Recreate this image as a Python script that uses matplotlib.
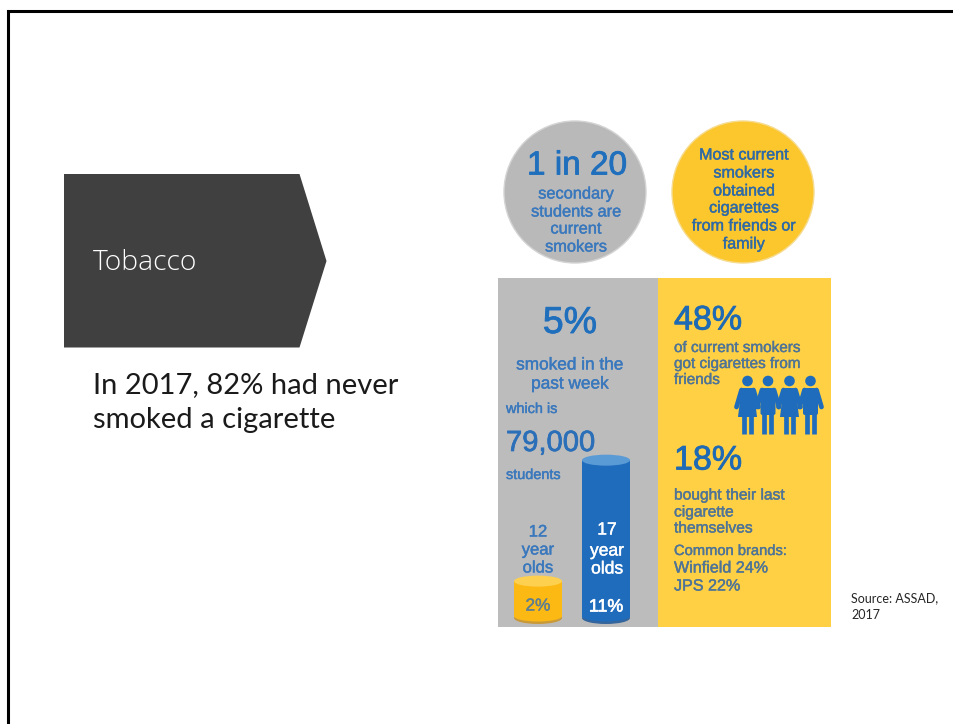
import matplotlib
matplotlib.use("Agg")
import matplotlib.pyplot as plt
import matplotlib.patheffects as pe
from matplotlib.patches import Circle, Ellipse, Polygon, Rectangle, FancyBboxPatch

# slide content
section_title = "Tobacco"
intro_lines = ["In 2017, 82% had never", "smoked a cigarette"]
source_lines = ["Source: ASSAD,", "2017"]

circle_grey_head = "1 in 20"
circle_grey_lines = ["secondary", "students are", "current", "smokers"]
circle_gold_lines = ["Most current", "smokers", "obtained", "cigarettes", "from friends or", "family"]

age_labels = [["12", "year", "olds"], ["17", "year", "olds"]]
age_values = [2, 11]

W, H = 954, 724
GREY = "#bcbcbc"
GOLD = "#ffd044"
AMBER = "#fdb913"
BLUE = "#1f6cbc"
TEXT_BLUE = "#3a78bd"
TEXT_SLATE = "#4f7496"
SANS = "Liberation Sans"

fig = plt.figure(figsize=(W / 100, H / 100), dpi=100)
ax = fig.add_axes([0, 0, 1, 1])
ax.set_xlim(0, W)
ax.set_ylim(H, 0)
ax.axis("off")


def label(x, y, s, size, color, ha="center", stroke=0.3):
    # regular weight with a thin outline, heavier than regular but lighter than bold
    t = ax.text(x, y, s, fontsize=size, color=color, ha=ha, va="center", family=SANS, zorder=6)
    t.set_path_effects([pe.withStroke(linewidth=stroke, foreground=color)])


def stack(x, ys, lines, size, color, ha="center"):
    for y, s in zip(ys, lines):
        label(x, y, s, size, color, ha=ha)


def cylinder(cx, base, value, half_w, fill, cap, shade):
    # body height follows the percentage
    height = 9 + 13.44 * value
    top = base - height
    ax.add_patch(Ellipse((cx, base + 1), half_w * 2, 12, fc=shade, ec="none", zorder=3))
    ax.add_patch(Rectangle((cx - half_w, top), half_w * 2, height, fc=fill, ec="none", zorder=3))
    ax.add_patch(Ellipse((cx, base - 1), half_w * 2, 11, fc=fill, ec="none", zorder=3))
    ax.add_patch(Ellipse((cx, top), half_w * 2, 11, fc=cap, ec="none", zorder=4))


# slide frame: open along the bottom and right
ax.plot([8.5, 8.5, W], [H, 10.5, 10.5], color="black", lw=2.2, solid_joinstyle="miter")

# section arrow
ax.add_patch(Polygon([(64, 174), (299.5, 174), (326.5, 261), (299.5, 347.5), (64, 347.5)],
                     closed=True, fc="#404040", ec="none"))
ax.text(93, 263, section_title, fontsize=20.3, color="white", family="Open Sans", fontweight="light",
        ha="left", va="center")

for y, s in zip([385, 420], intro_lines):
    ax.text(93, y, s, fontsize=21, color="#1a1a1a", family="Lato", ha="left", va="center")

for y, s in zip([598, 615], source_lines):
    ax.text(851, y, s, fontsize=9, color="#262626", family="Lato", ha="left", va="center")

# top circles
ax.add_patch(Circle((575, 192), 71, fc="#b9b9b9", ec="#d4d4d4", lw=1))
ax.add_patch(Circle((743, 192), 71, fc="#fcc62d", ec="#f6dc90", lw=1))
label(577, 166, circle_grey_head, 24, "#1f6fbd", stroke=0.6)
stack(576, [194, 212, 229, 247], circle_grey_lines, 11.8, TEXT_BLUE)
stack(744, [155, 173, 191, 208, 226, 244], circle_gold_lines, 11.6, "#2f6aa5")

# lower panels
ax.add_patch(Rectangle((498, 278), 160, 349, fc=GREY, ec="none"))
ax.add_patch(Rectangle((658, 278), 173, 349, fc=GOLD, ec="none"))

# grey panel text
label(570, 323, "5%", 27, "#1f6fbd", stroke=0.6)
stack(570, [365, 384], ["smoked in the", "past week"], 12.4, TEXT_BLUE)
label(506, 409, "which is", 10.4, TEXT_BLUE, ha="left")
label(506, 443, "79,000", 21, "#2a6fb8", ha="left", stroke=0.5)
label(506, 475, "students", 10.4, TEXT_BLUE, ha="left")

# cylinders by age group
cylinder(538, 617, age_values[0], 24, AMBER, "#fed050", "#c99a3a")
cylinder(606, 617, age_values[1], 24, BLUE, "#5b9bd5", "#34659c")
stack(538, [532, 550, 568], age_labels[0], 12, TEXT_BLUE)
stack(607, [530, 551, 569], age_labels[1], 12.6, "white")
label(538, 606, f"{age_values[0]}%", 12.4, "#5f7f8f")
label(606, 607, f"{age_values[1]}%", 12.8, "white", stroke=0.5)

# gold panel text
label(674, 321, "48%", 24.5, "#1f6ab4", ha="left", stroke=0.6)
stack(674, [348, 364, 380], ["of current smokers", "got cigarettes from", "friends"], 11, TEXT_SLATE, ha="left")

# group of four figures, woman / man alternating
for cx, skirt in zip([747.5, 768, 789.5, 810.5], [True, False, True, False]):
    ax.add_patch(Circle((cx, 381), 5.3, fc=BLUE, ec="none", zorder=3))
    if skirt:
        ax.add_patch(Polygon([(cx - 6, 388), (cx + 6, 388), (cx + 9.5, 417), (cx - 9.5, 417)],
                             fc=BLUE, ec="none", zorder=3))
    else:
        ax.add_patch(FancyBboxPatch((cx - 7.5, 388), 15, 27, boxstyle="round,pad=0,rounding_size=2",
                                    fc=BLUE, ec="none", zorder=3))
    ax.plot([cx - 3.5, cx - 3.5], [412, 434], color=BLUE, lw=3.4, solid_capstyle="butt", zorder=3)
    ax.plot([cx + 3.5, cx + 3.5], [412, 434], color=BLUE, lw=3.4, solid_capstyle="butt", zorder=3)
    ax.plot([cx - 6, cx - 11], [390, 407], color=BLUE, lw=3.4, solid_capstyle="round", zorder=3)
    ax.plot([cx + 6, cx + 11], [390, 407], color=BLUE, lw=3.4, solid_capstyle="round", zorder=3)

label(674, 461, "18%", 24.5, "#1f6ab4", ha="left", stroke=0.6)
stack(674, [495, 512, 528], ["bought their last", "cigarette", "themselves"], 11.2, TEXT_SLATE, ha="left")
label(674, 551, "Common brands:", 10.6, TEXT_SLATE, ha="left")
stack(674, [568, 586], ["Winfield 24%", "JPS 22%"], 11.6, TEXT_SLATE, ha="left")

fig.savefig("out.png", dpi=100, facecolor="white")
